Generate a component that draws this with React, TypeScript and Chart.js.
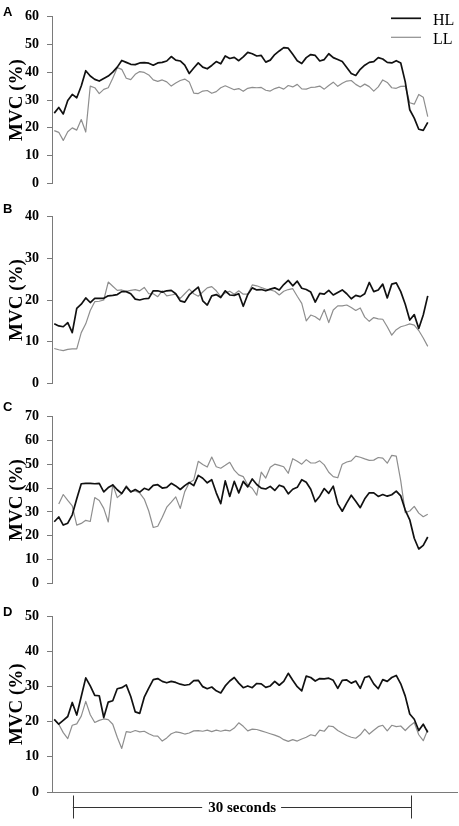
import React, { useEffect, useRef } from "react";
import { Chart, registerables } from "chart.js";

Chart.register(...registerables);

// ---------- data ----------
const TIME_START = 0.2; // s, first sample
const TIME_STEP = 0.4; // s between samples
const X_MIN = 0;
const X_MAX = 36;
const BRACKET_START = 1.85;
const BRACKET_END = 31.95;
const BRACKET_LABEL = "30 seconds";

const SERIES_LABELS = ["HL", "LL"];
const PANEL_LETTERS = ["A", "B", "C", "D"];
const Y_MAXES = [60, 40, 70, 50];
const Y_STEP = 10;
const Y_TITLE = "MVC (%)";

const HL_A = [
  25.3, 27.3, 25.0, 29.8, 32.0, 30.8, 35.0, 40.5, 38.6, 37.4,
  36.8, 37.7, 38.6, 40.0, 41.8, 44.2, 43.5, 42.8, 42.7, 43.3,
  43.4, 43.2, 42.5, 43.3, 43.5, 44.0, 45.6, 44.3, 44.0, 42.5,
  39.5, 41.5, 43.3, 41.8, 41.2, 42.4, 43.8, 43.0, 45.8, 44.9,
  45.3, 44.1, 45.5, 47.1, 46.6, 45.8, 46.0, 43.6, 44.3, 46.3,
  47.6, 48.8, 48.6, 46.4, 44.1, 43.1, 45.2, 46.3, 46.0, 44.0,
  44.5, 46.6, 45.2, 44.5, 43.8, 41.7, 39.5, 38.8, 41.0, 42.5,
  43.5, 43.8, 45.2, 44.7, 43.5, 43.3, 44.1, 43.3, 36.5, 26.5,
  23.5, 19.5, 19.1, 22.0,
];
const LL_A = [
  19.0, 18.4, 15.5, 18.6, 20.0, 19.2, 23.0, 18.5, 35.0, 34.4,
  32.3, 33.8, 34.4, 37.8, 41.6, 41.0, 37.8, 37.3, 39.2, 40.2,
  39.9, 39.0, 37.2, 36.7, 37.2, 36.5, 35.0, 36.1, 37.0, 37.5,
  36.5, 32.5, 32.3, 33.2, 33.4, 32.4, 33.0, 34.4, 35.1, 34.4,
  33.7, 34.1, 33.1, 34.2, 34.5, 34.4, 34.5, 33.5, 33.2, 34.1,
  34.6, 33.9, 35.2, 34.7, 35.6, 34.0, 33.9, 34.5, 34.6, 35.0,
  33.9, 35.2, 36.4, 34.9, 36.0, 36.8, 37.0, 35.6, 34.7, 35.7,
  34.8, 33.2, 34.7, 37.2, 36.3, 34.4, 34.2, 34.9, 35.0, 29.0,
  28.5, 32.0, 31.0, 24.0,
];
const HL_B = [
  14.3, 13.8, 13.6, 14.6, 12.2, 18.0, 19.0, 20.5, 19.4, 20.4,
  20.4, 20.4, 21.0, 21.1, 21.3, 22.0, 22.0, 21.5, 20.2, 20.0,
  20.3, 20.4, 22.2, 22.2, 21.9, 22.2, 22.3, 21.5, 19.8, 19.5,
  21.2, 22.2, 23.1, 19.8, 18.8, 21.0, 21.3, 20.6, 22.2, 21.2,
  21.1, 21.5, 18.5, 21.3, 22.9, 22.4, 22.5, 22.2, 22.6, 22.9,
  22.4, 23.7, 24.7, 23.4, 24.5, 22.8, 22.5, 21.9, 19.5, 21.6,
  21.4, 22.3, 21.2, 21.8, 22.4, 21.5, 20.3, 21.1, 20.8, 21.5,
  24.2, 22.0, 22.4, 23.8, 20.5, 23.8, 24.1, 22.0, 19.0, 15.2,
  16.5, 13.2, 16.4, 21.0,
];
const LL_B = [
  8.4, 8.1, 7.9, 8.2, 8.3, 8.3, 12.2, 14.3, 17.5, 19.6,
  19.7, 20.0, 24.3, 23.3, 22.3, 22.4, 22.1, 22.3, 22.5, 22.2,
  23.0, 21.5, 21.5, 20.8, 22.2, 21.0, 21.2, 21.4, 20.4, 21.5,
  22.6, 21.5, 20.9, 21.9, 22.9, 23.2, 22.2, 20.8, 21.7, 22.1,
  21.4, 22.2, 21.4, 21.4, 23.6, 23.4, 23.0, 22.6, 22.4, 22.1,
  21.2, 22.1, 22.5, 22.7, 20.9, 19.2, 15.0, 16.4, 16.0, 15.2,
  17.7, 14.6, 17.6, 18.6, 18.6, 18.8, 18.2, 17.5, 18.1, 15.9,
  14.9, 15.8, 15.5, 15.4, 13.6, 11.6, 12.9, 13.6, 13.9, 14.3,
  14.0, 12.7, 10.9, 8.9,
];
const HL_C = [
  25.9, 27.9, 24.5, 25.3, 28.8, 35.5, 41.8, 42.0, 42.0, 41.8,
  42.0, 38.4, 40.2, 41.3, 39.3, 37.7, 40.5, 38.4, 39.4, 38.3,
  39.9, 39.2, 41.1, 41.4, 40.0, 40.3, 42.0, 40.9, 39.4, 41.0,
  42.3, 41.0, 45.3, 44.1, 42.2, 43.5, 38.0, 33.5, 43.0, 36.5,
  42.8, 38.0, 42.8, 40.5, 43.8, 41.5, 40.0, 39.6, 40.7, 39.0,
  41.2, 40.5, 37.6, 39.5, 40.3, 43.5, 42.4, 39.5, 34.3, 36.6,
  39.8, 37.8, 40.8, 33.4, 30.3, 33.8, 37.0, 34.5, 31.8, 35.5,
  38.0, 38.0, 36.5, 37.3, 36.6, 37.2, 38.7, 36.7, 30.8, 26.7,
  19.0, 14.5, 16.0, 19.5,
];
const LL_C = [
  null, 33.3, 37.3, 34.8, 32.5, 24.5, 25.2, 26.5, 26.0, 36.0,
  34.8, 31.5, 25.8, 41.5, 36.0, 37.6, 41.0, 38.5, 38.8, 37.9,
  35.4, 30.4, 23.5, 24.0, 27.8, 32.0, 34.1, 36.3, 31.5, 38.5,
  42.2, 43.4, 51.2, 49.9, 48.8, 53.0, 48.9, 48.3, 49.5, 50.8,
  47.5, 45.5, 44.8, 41.3, 39.9, 37.0, 46.7, 44.2, 48.7, 50.0,
  49.5, 48.9, 46.2, 52.3, 51.2, 50.0, 51.9, 50.5, 50.5, 51.4,
  49.7, 46.6, 44.8, 44.3, 50.0, 50.9, 51.4, 53.4, 52.9, 52.2,
  51.6, 51.7, 52.8, 52.5, 50.4, 53.7, 53.4, 43.0, 29.7, 30.4,
  32.3, 29.5, 28.0, 29.0,
];
const HL_D = [
  20.7, 19.3, 20.4, 21.5, 25.5, 21.9, 27.2, 32.5, 30.2, 27.5,
  27.4, 21.2, 25.6, 26.0, 29.4, 29.7, 30.5, 27.2, 22.8, 22.4,
  27.0, 29.6, 32.0, 32.3, 31.5, 31.1, 31.5, 31.2, 30.7, 30.4,
  30.6, 31.7, 31.8, 30.0, 29.4, 29.9, 28.8, 28.2, 30.2, 31.6,
  32.6, 31.0, 29.7, 30.2, 29.7, 30.9, 30.8, 29.8, 30.2, 31.5,
  30.4, 31.5, 33.8, 31.8, 30.0, 28.8, 33.0, 32.6, 31.6, 32.3,
  32.2, 32.4, 31.8, 29.5, 31.8, 31.9, 31.0, 31.6, 29.5, 32.6,
  33.0, 30.8, 29.4, 32.0, 31.5, 32.6, 33.2, 30.8, 27.3, 22.2,
  20.7, 17.5, 19.3, 17.0,
];
const LL_D = [
  20.6, 19.3, 16.9, 15.2, 19.0, 19.4, 21.6, 25.8, 22.0, 19.8,
  20.4, 20.8, 20.6, 19.3, 15.6, 12.4, 17.2, 17.0, 17.5, 17.1,
  17.3, 16.6, 16.0, 15.9, 14.5, 15.4, 16.6, 17.1, 16.9, 16.5,
  16.8, 17.4, 17.5, 17.3, 17.6, 17.2, 17.6, 17.3, 17.6, 17.4,
  18.2, 19.7, 18.7, 17.4, 17.9, 17.8, 17.4, 17.0, 16.6, 16.2,
  15.7, 14.9, 14.4, 14.9, 14.5, 15.1, 15.6, 16.3, 16.0, 17.6,
  17.3, 18.8, 18.6, 17.5, 16.8, 16.1, 15.6, 15.3, 16.3, 17.9,
  16.5, 17.6, 18.6, 19.0, 17.4, 19.0, 18.6, 18.8, 17.5, 18.8,
  19.8, 16.3, 14.6, 17.7,
];

const HL_SERIES = [HL_A, HL_B, HL_C, HL_D];
const LL_SERIES = [LL_A, LL_B, LL_C, LL_D];

// ---------- layout & style ----------
const WIDTH = 459;
const LAYOUT = [
  { top: 0, height: 200, padTop: 11, padBottom: 12, letterY: 12.5, legend: true, xAxis: false },
  { top: 200, height: 200, padTop: 10, padBottom: 12, letterY: 9, legend: false, xAxis: false },
  { top: 400, height: 200, padTop: 13, padBottom: 10, letterY: 7.5, legend: false, xAxis: false },
  { top: 600, height: 226, padTop: 13, padBottom: 34, letterY: 12.5, legend: false, xAxis: true },
];
const HL_COLOR = "#111111";
const LL_COLOR = "#8e8e8e";
const AXIS_COLOR = "#7a7a7a";
const SERIF = '"Liberation Serif", "Times New Roman", serif';
const SANS = '"Liberation Sans", Arial, sans-serif';

function toPoints(values: (number | null)[]) {
  return values.map((v, i) => ({ x: +(TIME_START + i * TIME_STEP).toFixed(2), y: v }));
}

function Panel({ index }: { index: number }) {
  const ref = useRef<HTMLCanvasElement | null>(null);
  const lay = LAYOUT[index];

  useEffect(() => {
    if (!ref.current) return;
    const decor = {
      id: "decor" + index,
      afterDraw(chart: any) {
        const ctx = chart.ctx as CanvasRenderingContext2D;
        ctx.save();
        // panel letter
        ctx.fillStyle = "#000";
        ctx.font = `bold 13px ${SANS}`;
        ctx.textAlign = "left";
        ctx.textBaseline = "middle";
        ctx.fillText(PANEL_LETTERS[index], 3, lay.letterY);

        // legend
        if (lay.legend) {
          const rows = [18.3, 37.3];
          chart.data.datasets.forEach((ds: any, i: number) => {
            ctx.strokeStyle = ds.borderColor;
            ctx.lineWidth = ds.borderWidth;
            ctx.beginPath();
            ctx.moveTo(391, rows[i]);
            ctx.lineTo(421, rows[i]);
            ctx.stroke();
            ctx.fillStyle = "#000";
            ctx.font = `16px ${SERIF}`;
            ctx.textAlign = "left";
            ctx.textBaseline = "middle";
            ctx.fillText(ds.label, 433, rows[i] + 2);
          });
        }

        // 30 s bracket
        if (lay.xAxis) {
          const xs = chart.scales.x;
          const x0 = xs.getPixelForValue(BRACKET_START);
          const x1 = xs.getPixelForValue(BRACKET_END);
          const y = Math.round(chart.chartArea.bottom + 15) + 0.5;
          ctx.font = `bold 15px ${SERIF}`;
          const tw = ctx.measureText(BRACKET_LABEL).width;
          const mid = (x0 + x1) / 2;
          ctx.strokeStyle = "#333";
          ctx.lineWidth = 1;
          ctx.beginPath();
          ctx.moveTo(x0, y);
          ctx.lineTo(mid - tw / 2 - 6, y);
          ctx.moveTo(mid + tw / 2 + 5, y);
          ctx.lineTo(x1, y);
          ctx.moveTo(Math.round(x0) + 0.5, y - 12);
          ctx.lineTo(Math.round(x0) + 0.5, y + 11);
          ctx.moveTo(Math.round(x1) + 0.5, y - 12);
          ctx.lineTo(Math.round(x1) + 0.5, y + 11);
          ctx.stroke();
          ctx.fillStyle = "#000";
          ctx.textAlign = "center";
          ctx.textBaseline = "middle";
          ctx.fillText(BRACKET_LABEL, mid, y + 1);
        }
        ctx.restore();
      },
    };

    const chart = new Chart(ref.current, {
      type: "line",
      data: {
        datasets: [
          {
            label: SERIES_LABELS[0],
            data: toPoints(HL_SERIES[index]),
            borderColor: HL_COLOR,
            borderWidth: 1.7,
            pointRadius: 0,
            tension: 0,
            borderJoinStyle: "round",
          },
          {
            label: SERIES_LABELS[1],
            data: toPoints(LL_SERIES[index]),
            borderColor: LL_COLOR,
            borderWidth: 1.2,
            pointRadius: 0,
            tension: 0,
            borderJoinStyle: "round",
          },
        ],
      },
      options: {
        animation: false,
        responsive: false,
        maintainAspectRatio: false,
        events: [],
        layout: { padding: { top: lay.padTop, bottom: lay.padBottom, left: 0, right: 2 } },
        plugins: { legend: { display: false }, tooltip: { enabled: false } },
        scales: {
          x: {
            type: "linear",
            min: X_MIN,
            max: X_MAX,
            display: lay.xAxis,
            grid: { display: false, drawTicks: false },
            ticks: { display: false },
            border: { display: true, color: AXIS_COLOR, width: 1 },
          },
          y: {
            type: "linear",
            min: 0,
            max: Y_MAXES[index],
            ticks: {
              stepSize: Y_STEP,
              color: "#000",
              padding: 8,
              font: { family: SERIF, size: 14, weight: "bold" },
            },
            grid: { drawOnChartArea: false, drawTicks: true, tickLength: 5, color: AXIS_COLOR },
            border: { display: true, color: AXIS_COLOR, width: 1 },
            title: {
              display: true,
              text: Y_TITLE,
              color: "#000",
              font: { family: SERIF, size: 19, weight: "bold" },
              padding: { top: 6, bottom: 0 },
            },
            afterFit: (scale: any) => {
              scale.width = 52;
            },
          },
        },
      },
      plugins: [decor],
    } as any);
    return () => chart.destroy();
  }, [index]);

  return (
    <canvas
      ref={ref}
      width={WIDTH}
      height={lay.height}
      style={{ position: "absolute", left: 0, top: lay.top, width: WIDTH, height: lay.height }}
    />
  );
}

export default function App() {
  return (
    <div style={{ position: "fixed", left: 0, top: 0, width: WIDTH, height: 826, background: "#fff" }}>
      {PANEL_LETTERS.map((_, i) => (
        <Panel key={i} index={i} />
      ))}
    </div>
  );
}
